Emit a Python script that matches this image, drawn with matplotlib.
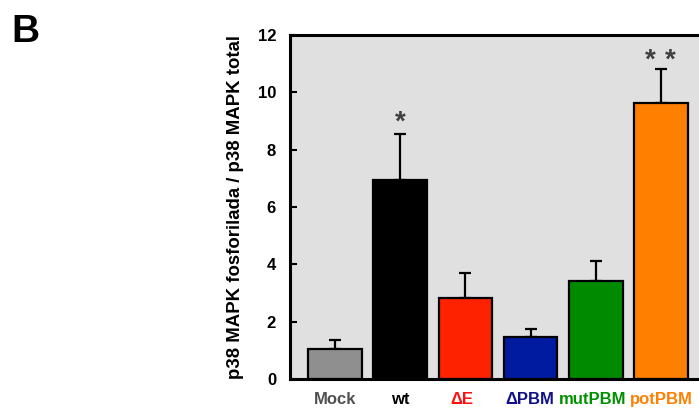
import matplotlib
matplotlib.use('Agg')
import matplotlib.pyplot as plt
from matplotlib.transforms import ScaledTranslation

categories = ['Mock', 'wt', 'ΔE', 'ΔPBM', 'mutPBM', 'potPBM']
means = [1.05, 6.95, 2.84, 1.46, 3.42, 9.64]
errors = [0.31, 1.60, 0.85, 0.27, 0.68, 1.17]
bar_colors = ['#8f8f8f', '#000000', '#ff2200', '#001aa0', '#008a00', '#ff7f00']
label_colors = ['#505050', '#000000', '#ff1010', '#10108a', '#009000', '#ff8000']
label_shift_px = [0, 0, -4, -1, -3, 0]
yticks = [0, 2, 4, 6, 8, 10, 12]

plt.rcParams['font.family'] = ['Liberation Sans', 'DejaVu Sans']
plt.rcParams['font.weight'] = 'bold'

fig = plt.figure(figsize=(6.99, 4.09), dpi=100)
ax = fig.add_axes([290/699, 1 - 379/409, 420/699, 344/409])
ax.set_facecolor('#e0e0e0')

x = list(range(len(categories)))
ax.bar(x, means, width=0.82, color=bar_colors, edgecolor='black', linewidth=1.6, zorder=2)
ax.errorbar(x, means, yerr=[[0]*len(errors), errors], fmt='none', ecolor='black',
            elinewidth=1.6, capsize=4.5, capthick=1.6, zorder=1)

ax.set_xlim(-0.69, 5.75)
ax.set_ylim(0, 12)
ax.set_yticks(yticks)
ax.set_yticklabels([str(t) for t in yticks], fontsize=12, fontweight='bold')
ax.tick_params(axis='y', direction='in', length=5, width=1.5, pad=10)
ax.set_xticks(x)
ax.set_xticklabels(categories, fontsize=12, fontweight='bold')
ax.tick_params(axis='x', length=0, pad=9.5)
for lbl, c, dx in zip(ax.get_xticklabels(), label_colors, label_shift_px):
    lbl.set_color(c)
    lbl.set_transform(lbl.get_transform() + ScaledTranslation(dx/100, 0, fig.dpi_scale_trans))
for s in ax.spines.values():
    s.set_linewidth(2.2)

ax.set_ylabel('p38 MAPK fosforilada / p38 MAPK total', fontsize=13.4, fontweight='bold', labelpad=10)

# significance marks
ax.text(1, 8.95, '*', ha='center', va='center', fontsize=20, fontweight='bold', color='#404040')
ax.text(4.83, 11.1, '*', ha='center', va='center', fontsize=20, fontweight='bold', color='#404040')
ax.text(5.14, 11.1, '*', ha='center', va='center', fontsize=20, fontweight='bold', color='#404040')

fig.text(11/699, 1 - 42/409, 'B', fontsize=28, fontweight='bold', ha='left', va='baseline')

fig.savefig('out.png', dpi=100)
